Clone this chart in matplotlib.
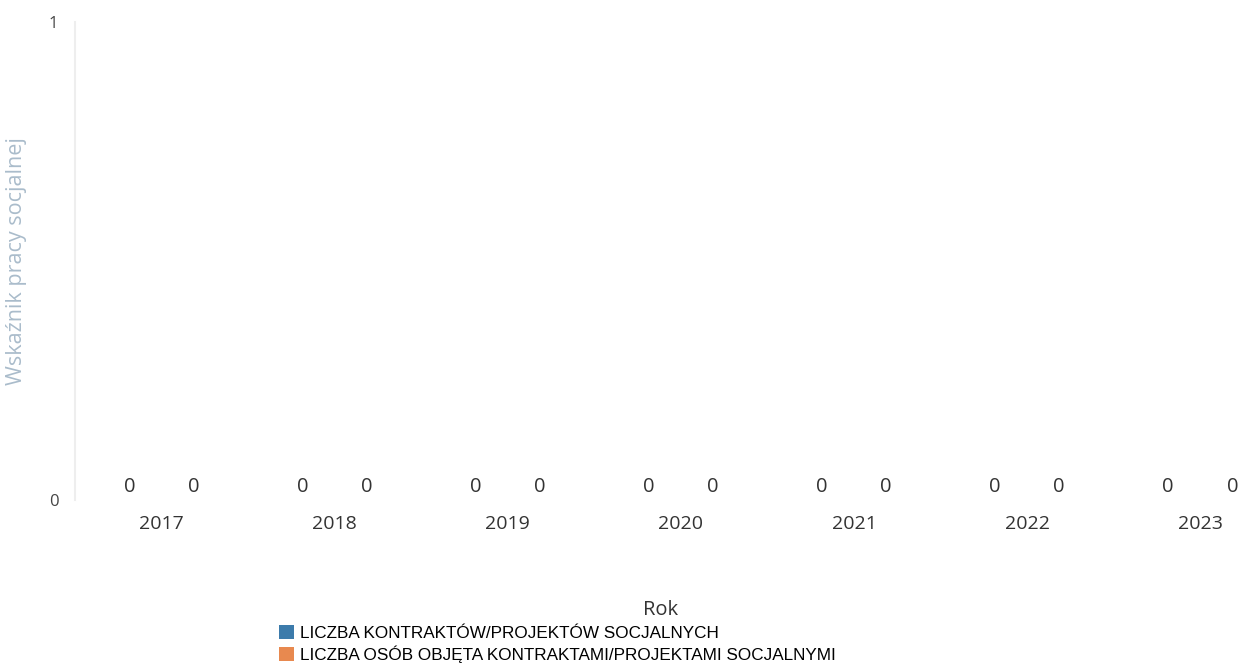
import matplotlib
matplotlib.use("Agg")
import matplotlib.pyplot as plt
import numpy as np

years = ["2017", "2018", "2019", "2020", "2021", "2022", "2023"]
kontrakty = [0, 0, 0, 0, 0, 0, 0]
osoby = [0, 0, 0, 0, 0, 0, 0]
series_labels = ["LICZBA KONTRAKTÓW/PROJEKTÓW SOCJALNYCH",
                 "LICZBA OSÓB OBJĘTA KONTRAKTAMI/PROJEKTAMI SOCJALNYMI"]
colors = ["#3c7bab", "#e8894f"]

fig = plt.figure(figsize=(12.47, 6.68), dpi=100)
ax = fig.add_axes([75/1247, 1 - 500/668, 1 - 75/1247, (500 - 22)/668])

x = np.arange(len(years))
w = 0.37
b1 = ax.bar(x - w/2, kontrakty, width=w, color=colors[0], label=series_labels[0])
b2 = ax.bar(x + w/2, osoby, width=w, color=colors[1], label=series_labels[1])
for b in (b1, b2):
    ax.bar_label(b, padding=2, fontsize=14.5, color="#333333", family="Open Sans")

ax.set_xlim(-0.5, 6.27)
ax.set_ylim(0, 1)
ax.set_yticks([0, 1])
ax.set_yticklabels(["0", "1"], family="Open Sans", fontsize=12, color="#444444")
ax.set_xticks(x)
ax.set_xticklabels(years, family="Open Sans", fontsize=14, color="#333333")
ax.tick_params(axis="both", length=0)
ax.tick_params(axis="x", pad=11)
ax.tick_params(axis="y", pad=12)

for s in ["top", "right", "bottom"]:
    ax.spines[s].set_visible(False)
ax.spines["left"].set_color("#eeeeee")
ax.spines["left"].set_linewidth(1.5)

ax.set_xlabel("Rok", family="Open Sans", fontsize=14.5, color="#333333", labelpad=48)
ax.set_ylabel("Wskaźnik pracy socjalnej", family="Open Sans", fontsize=15.5,
              color="#aabccb", labelpad=12)
ax.yaxis.set_label_coords(-48/1172, 0.5)

fig.legend(handles=[b1, b2], labels=series_labels, loc="upper left",
           bbox_to_anchor=(279/1247, 1 - 625/668), frameon=False,
           prop={"family": "Liberation Sans", "size": 12.3},
           handlelength=0.9, handleheight=0.9, handletextpad=0.3,
           labelspacing=0.25, borderpad=0, borderaxespad=0)

fig.savefig("out.png", dpi=100)
